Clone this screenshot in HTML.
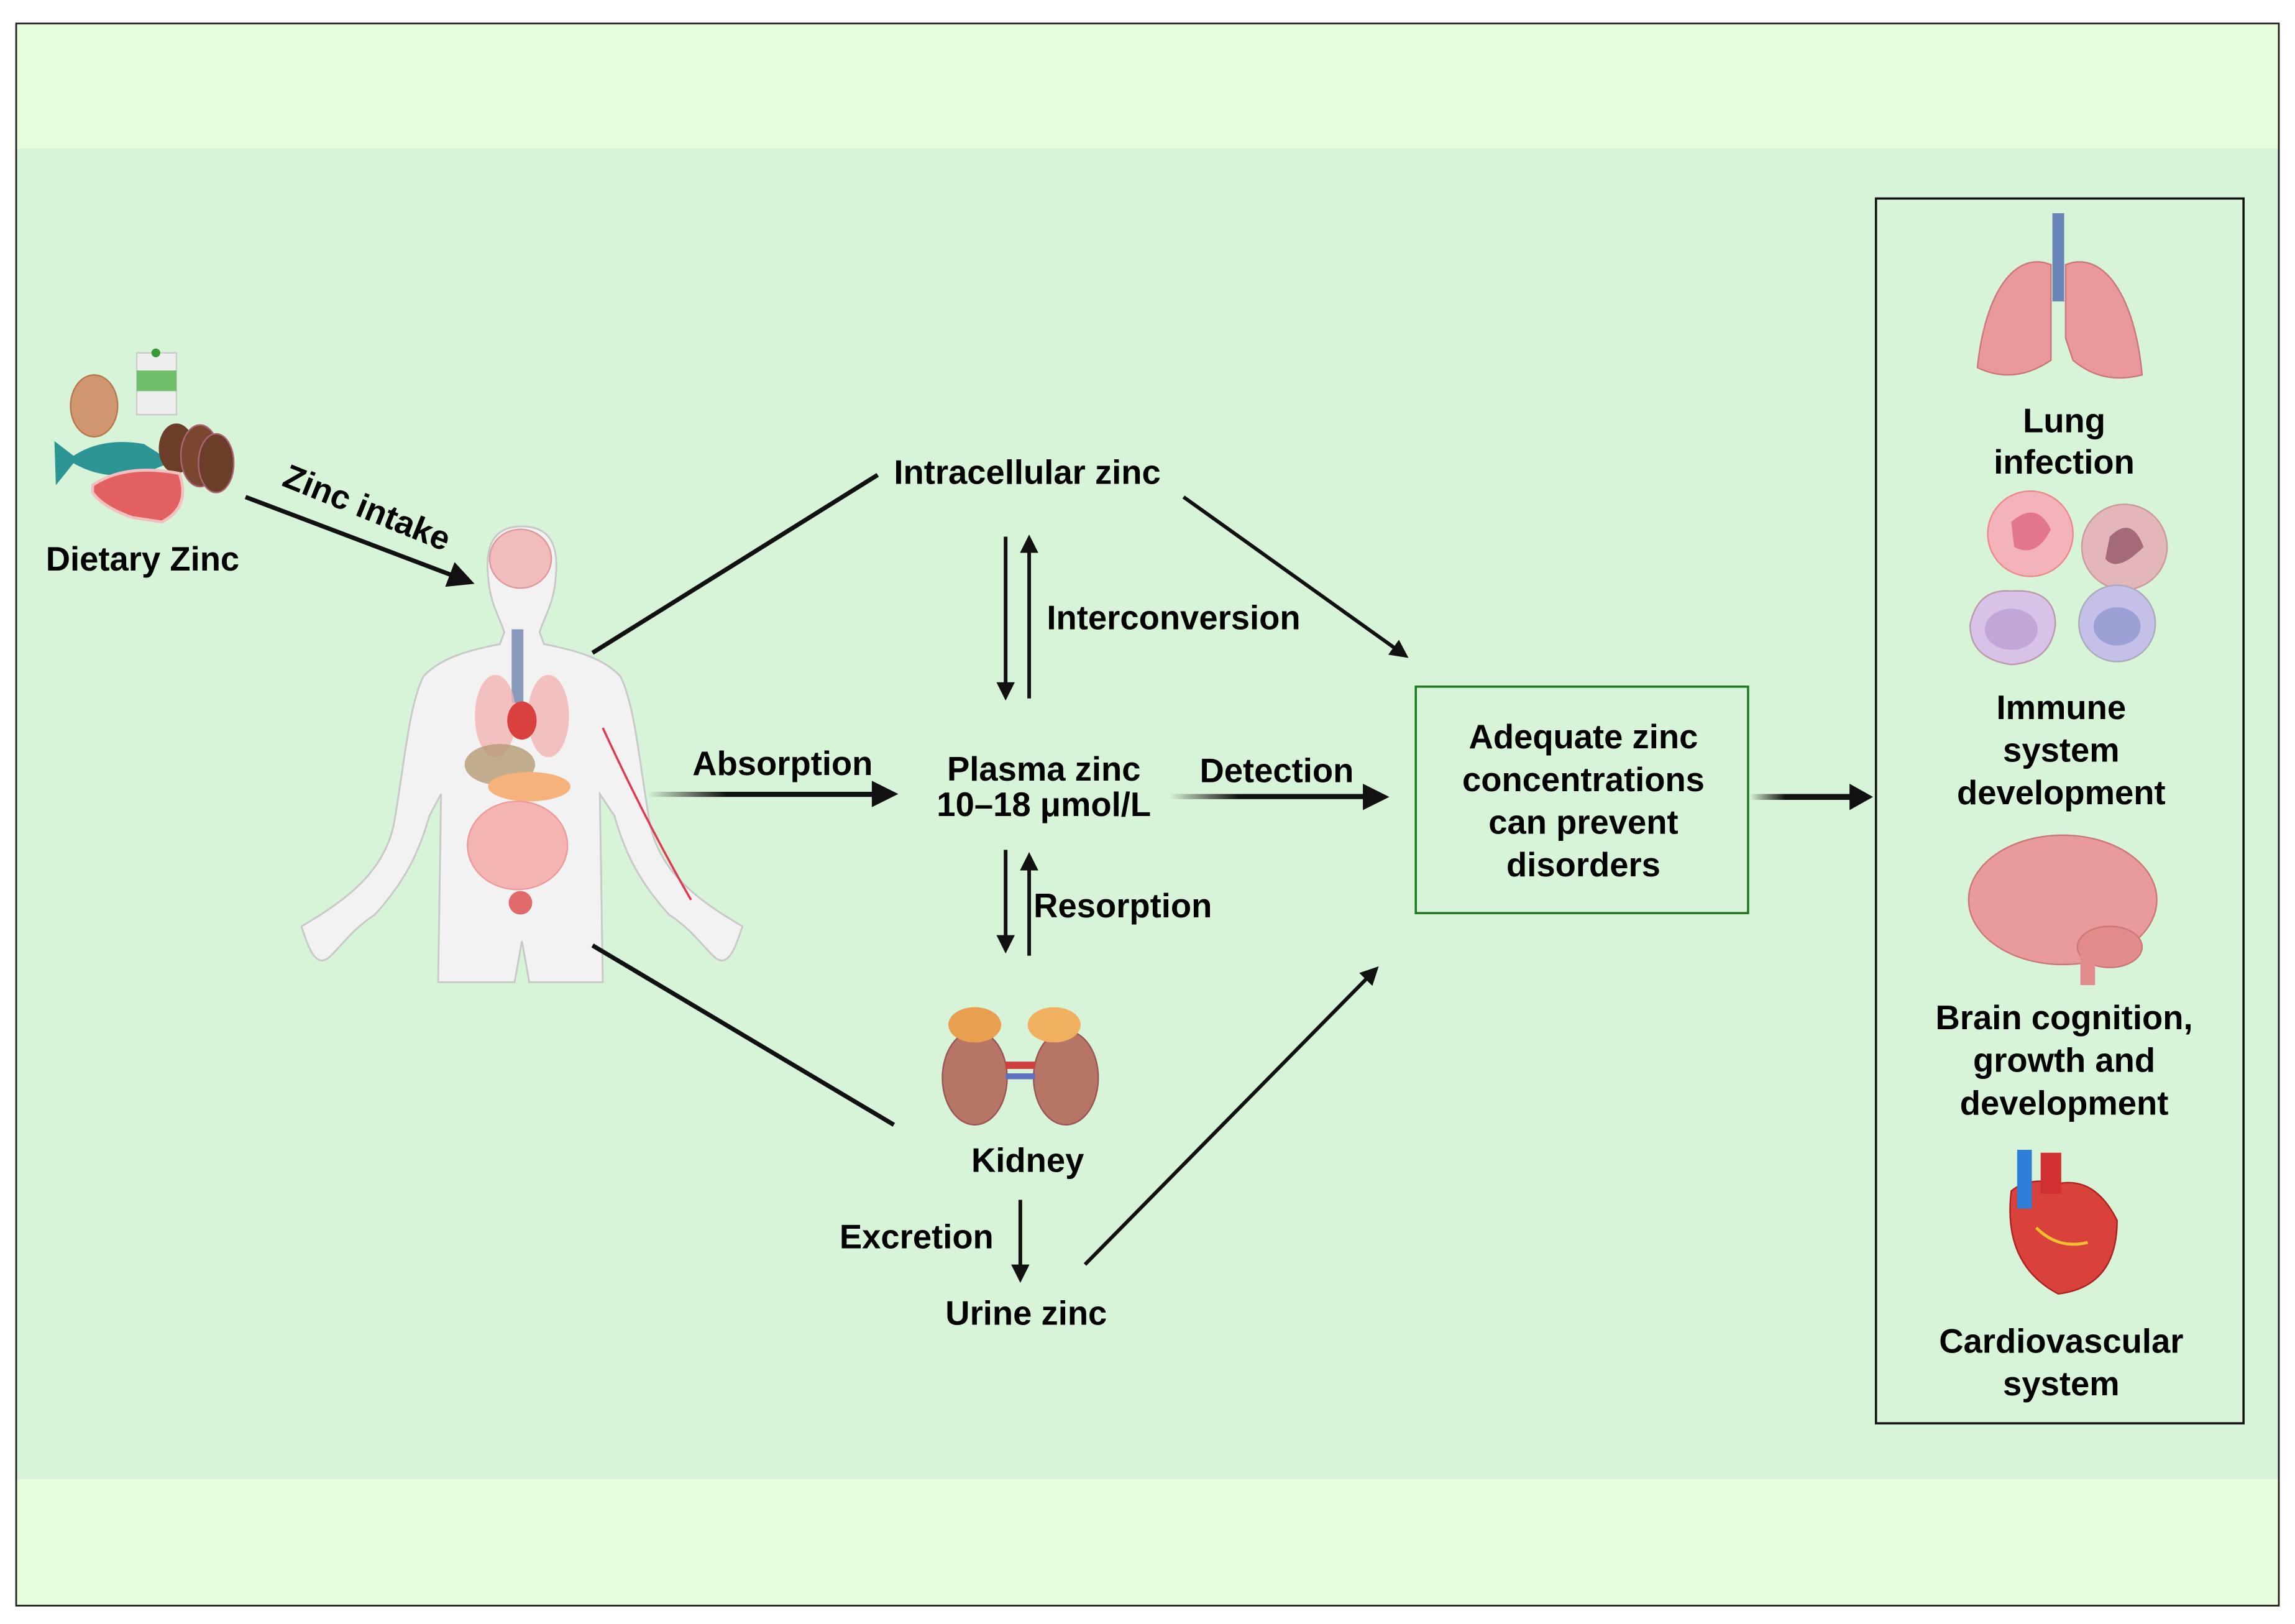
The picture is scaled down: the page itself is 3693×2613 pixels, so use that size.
<!DOCTYPE html>
<html><head><meta charset="utf-8"><style>
html,body{margin:0;padding:0;background:#fff}
svg{display:block}
text{font-family:"Liberation Sans",sans-serif;font-weight:bold;fill:#000}
</style></head><body>
<svg width="3693" height="2613" viewBox="0 0 1561 1104.5" xmlns="http://www.w3.org/2000/svg">
<defs>
<marker id="ah" markerWidth="6" markerHeight="6" refX="5" refY="3" orient="auto" markerUnits="strokeWidth">
<path d="M0,0 L6,3 L0,6 z" fill="#111"/></marker>
<marker id="ah2" markerWidth="5" markerHeight="5" refX="4" refY="2.5" orient="auto" markerUnits="strokeWidth">
<path d="M0,0 L5,2.5 L0,5 z" fill="#111"/></marker>
<linearGradient id="g1" x1="0" x2="1"><stop offset="0" stop-color="#111" stop-opacity="0"/><stop offset="0.35" stop-color="#111"/></linearGradient>
</defs>
<rect x="0" y="0" width="1561" height="1104.5" fill="#fff"/>
<rect x="11" y="16" width="1539" height="1076" fill="#d8f4d8" stroke="#222" stroke-width="1.2"/>
<rect x="11.6" y="16.6" width="1537.8" height="84.5" fill="#e6fddc"/>
<rect x="11.6" y="1006" width="1537.8" height="85.4" fill="#e6fddc"/>

<!-- foods -->
<ellipse cx="64" cy="276" rx="16" ry="21" fill="#cf9670" stroke="#b9754e"/>
<rect x="93" y="240" width="27" height="42" fill="#eee" stroke="#ccc"/>
<rect x="93" y="252" width="27" height="14" fill="#6fbf6a"/>
<circle cx="106" cy="240" r="3" fill="#3a9a3a"/>
<path d="M37,300 L50,310 Q70,297 98,302 L117,314 L98,322 Q70,327 50,315 L38,330 Z" fill="#2c9493"/>
<ellipse cx="120" cy="305" rx="12" ry="17" fill="#6a3e28"/>
<ellipse cx="136" cy="310" rx="13" ry="21" fill="#7a4630" stroke="#a67"/>
<ellipse cx="147" cy="315" rx="12" ry="20" fill="#6a3e28" stroke="#a67"/>
<path d="M63,330 Q85,315 122,322 Q130,345 110,355 L90,352 Q70,345 63,335 Z" fill="#e36060" stroke="#f3c0c0" stroke-width="2"/>

<text x="97" y="388" font-size="23" text-anchor="middle">Dietary Zinc</text>
<text x="0" y="0" font-size="23" transform="translate(191,330) rotate(22)">Zinc intake</text>
<line x1="167" y1="338" x2="320" y2="396" stroke="#111" stroke-width="3" marker-end="url(#ah)"/>

<!-- human -->
<path d="M355,358 C335,358 330,372 332,392 C333,410 340,420 343,430 L340,438 C320,442 300,447 288,460 C278,480 275,520 268,560 C262,590 240,610 205,630 C210,645 215,660 225,650 C235,640 240,632 255,622 C275,600 285,580 292,555 L300,540 L298,668 L350,668 L355,640 L360,668 L410,668 L408,540 L418,555 C425,580 435,600 455,622 C470,632 475,640 485,650 C495,660 500,645 505,630 C470,610 448,590 442,560 C435,520 432,480 422,460 C410,447 390,442 370,438 L367,430 C370,420 377,410 378,392 C380,372 375,358 355,358 Z" fill="#f2f2f2" stroke="#c8c8c8" stroke-width="1.2"/>
<ellipse cx="354" cy="380" rx="21" ry="20" fill="#f0bcbc" stroke="#d99"/>
<rect x="348" y="428" width="8" height="50" fill="#8899bb"/>
<ellipse cx="337" cy="487" rx="14" ry="28" fill="#f3b3b3" opacity="0.8"/>
<ellipse cx="373" cy="487" rx="14" ry="28" fill="#f3b3b3" opacity="0.8"/>
<ellipse cx="355" cy="490" rx="10" ry="13" fill="#d9413f"/>
<ellipse cx="340" cy="520" rx="24" ry="14" fill="#b59a74" opacity="0.8"/>
<ellipse cx="360" cy="535" rx="28" ry="10" fill="#f5b27c"/>
<ellipse cx="352" cy="575" rx="34" ry="30" fill="#f5b4b4" stroke="#e99"/>
<ellipse cx="354" cy="614" rx="8" ry="8" fill="#e06a6a"/>
<path d="M410,495 Q440,560 470,612" stroke="#e03a50" stroke-width="1.5" fill="none"/>

<line x1="403" y1="444" x2="597" y2="323" stroke="#111" stroke-width="3"/>
<line x1="403" y1="643" x2="608" y2="765" stroke="#111" stroke-width="3"/>

<text x="608" y="329" font-size="23">Intracellular zinc</text>
<text x="712" y="428" font-size="23">Interconversion</text>
<text x="471" y="527" font-size="23">Absorption</text>
<text x="710" y="531" font-size="23" text-anchor="middle">Plasma zinc</text>
<text x="710" y="555" font-size="23" text-anchor="middle">10–18 μmol/L</text>
<text x="816" y="532" font-size="23">Detection</text>
<text x="703" y="624" font-size="23">Resorption</text>
<text x="699" y="797" font-size="23" text-anchor="middle">Kidney</text>
<text x="571" y="849" font-size="23">Excretion</text>
<text x="698" y="901" font-size="23" text-anchor="middle">Urine zinc</text>

<line x1="684" y1="365" x2="684" y2="474" stroke="#111" stroke-width="2.5" marker-end="url(#ah2)"/>
<line x1="700" y1="475" x2="700" y2="366" stroke="#111" stroke-width="2.5" marker-end="url(#ah2)"/>
<line x1="684" y1="578" x2="684" y2="646" stroke="#111" stroke-width="2.5" marker-end="url(#ah2)"/>
<line x1="700" y1="650" x2="700" y2="582" stroke="#111" stroke-width="2.5" marker-end="url(#ah2)"/>
<line x1="694" y1="816" x2="694" y2="870" stroke="#111" stroke-width="2.5" marker-end="url(#ah2)"/>
<line x1="805" y1="338" x2="956" y2="446" stroke="#111" stroke-width="2.5" marker-end="url(#ah2)"/>
<line x1="738" y1="860" x2="936" y2="659" stroke="#111" stroke-width="2.5" marker-end="url(#ah2)"/>
<rect x="440" y="538.5" width="155" height="3.5" fill="url(#g1)"/>
<path d="M593,531 L611,540 L593,549 Z" fill="#111"/>
<rect x="795" y="540" width="135" height="3.5" fill="url(#g1)"/>
<path d="M927,533 L945,542 L927,551 Z" fill="#111"/>
<rect x="1190" y="540" width="70" height="4" fill="url(#g1)"/>
<path d="M1258,533 L1274,542 L1258,551 Z" fill="#111"/>

<!-- kidneys -->
<ellipse cx="663" cy="733" rx="22" ry="32" fill="#b77565" stroke="#955"/>
<ellipse cx="725" cy="733" rx="22" ry="32" fill="#b77565" stroke="#955"/>
<ellipse cx="663" cy="697" rx="18" ry="12" fill="#e8a050"/>
<ellipse cx="717" cy="697" rx="18" ry="12" fill="#f0b060"/>
<rect x="684" y="722" width="20" height="5" fill="#d04040"/>
<rect x="684" y="730" width="20" height="4" fill="#6070c0"/>

<rect x="963" y="467" width="226" height="154" fill="none" stroke="#1e7a1e" stroke-width="1.5"/>
<text x="1077" y="509" font-size="23" text-anchor="middle">Adequate zinc</text>
<text x="1077" y="538" font-size="23" text-anchor="middle">concentrations</text>
<text x="1077" y="567" font-size="23" text-anchor="middle">can prevent</text>
<text x="1077" y="596" font-size="23" text-anchor="middle">disorders</text>

<rect x="1276" y="135" width="250" height="833" fill="none" stroke="#111" stroke-width="1.5"/>
<!-- lungs -->
<rect x="1396" y="145" width="8" height="60" fill="#6a86b8"/>
<path d="M1395,180 C1370,170 1350,200 1345,250 Q1370,262 1395,245 Z" fill="#e9999c" stroke="#c77"/>
<path d="M1405,180 C1430,170 1452,200 1457,255 Q1430,262 1410,245 L1405,230 Z" fill="#e9999c" stroke="#c77"/>
<text x="1404" y="294" font-size="23" text-anchor="middle">Lung</text>
<text x="1404" y="322" font-size="23" text-anchor="middle">infection</text>
<circle cx="1381" cy="363" r="29" fill="#f4b2bb" stroke="#e88"/>
<path d="M1368,355 Q1385,340 1395,360 Q1385,380 1370,372" fill="#e2768a"/>
<circle cx="1445" cy="372" r="29" fill="#e3b6bc" stroke="#c99"/>
<path d="M1435,365 Q1450,350 1458,372 Q1440,390 1432,380" fill="#a46a78"/>
<path d="M1340,425 Q1345,400 1368,402 Q1398,400 1398,425 Q1395,450 1368,452 Q1340,448 1340,425 Z" fill="#d8c2e8" stroke="#b9a"/>
<ellipse cx="1368" cy="428" rx="18" ry="14" fill="#c2a6d8"/>
<circle cx="1440" cy="424" r="26" fill="#c5c0e8" stroke="#aab"/>
<ellipse cx="1440" cy="426" rx="16" ry="13" fill="#9da0d4"/>
<text x="1402" y="489" font-size="23" text-anchor="middle">Immune</text>
<text x="1402" y="518" font-size="23" text-anchor="middle">system</text>
<text x="1402" y="547" font-size="23" text-anchor="middle">development</text>
<ellipse cx="1403" cy="612" rx="64" ry="44" fill="#e99a9a" stroke="#c77"/>
<ellipse cx="1435" cy="644" rx="22" ry="14" fill="#e28c8c" stroke="#c77"/>
<rect x="1415" y="648" width="10" height="22" fill="#e28c8c"/>
<text x="1404" y="700" font-size="23" text-anchor="middle">Brain cognition,</text>
<text x="1404" y="729" font-size="23" text-anchor="middle">growth and</text>
<text x="1404" y="758" font-size="23" text-anchor="middle">development</text>
<path d="M1368,810 Q1362,860 1400,880 Q1440,875 1440,830 Q1425,800 1400,805 Q1380,800 1368,810 Z" fill="#d8423a" stroke="#a22"/>
<rect x="1372" y="782" width="10" height="40" fill="#2f7ed8"/>
<rect x="1388" y="784" width="14" height="28" fill="#d03030"/>
<path d="M1385,835 Q1400,850 1420,845" stroke="#f2c030" stroke-width="2" fill="none"/>
<text x="1402" y="920" font-size="23" text-anchor="middle">Cardiovascular</text>
<text x="1402" y="949" font-size="23" text-anchor="middle">system</text>
</svg>
</body></html>
